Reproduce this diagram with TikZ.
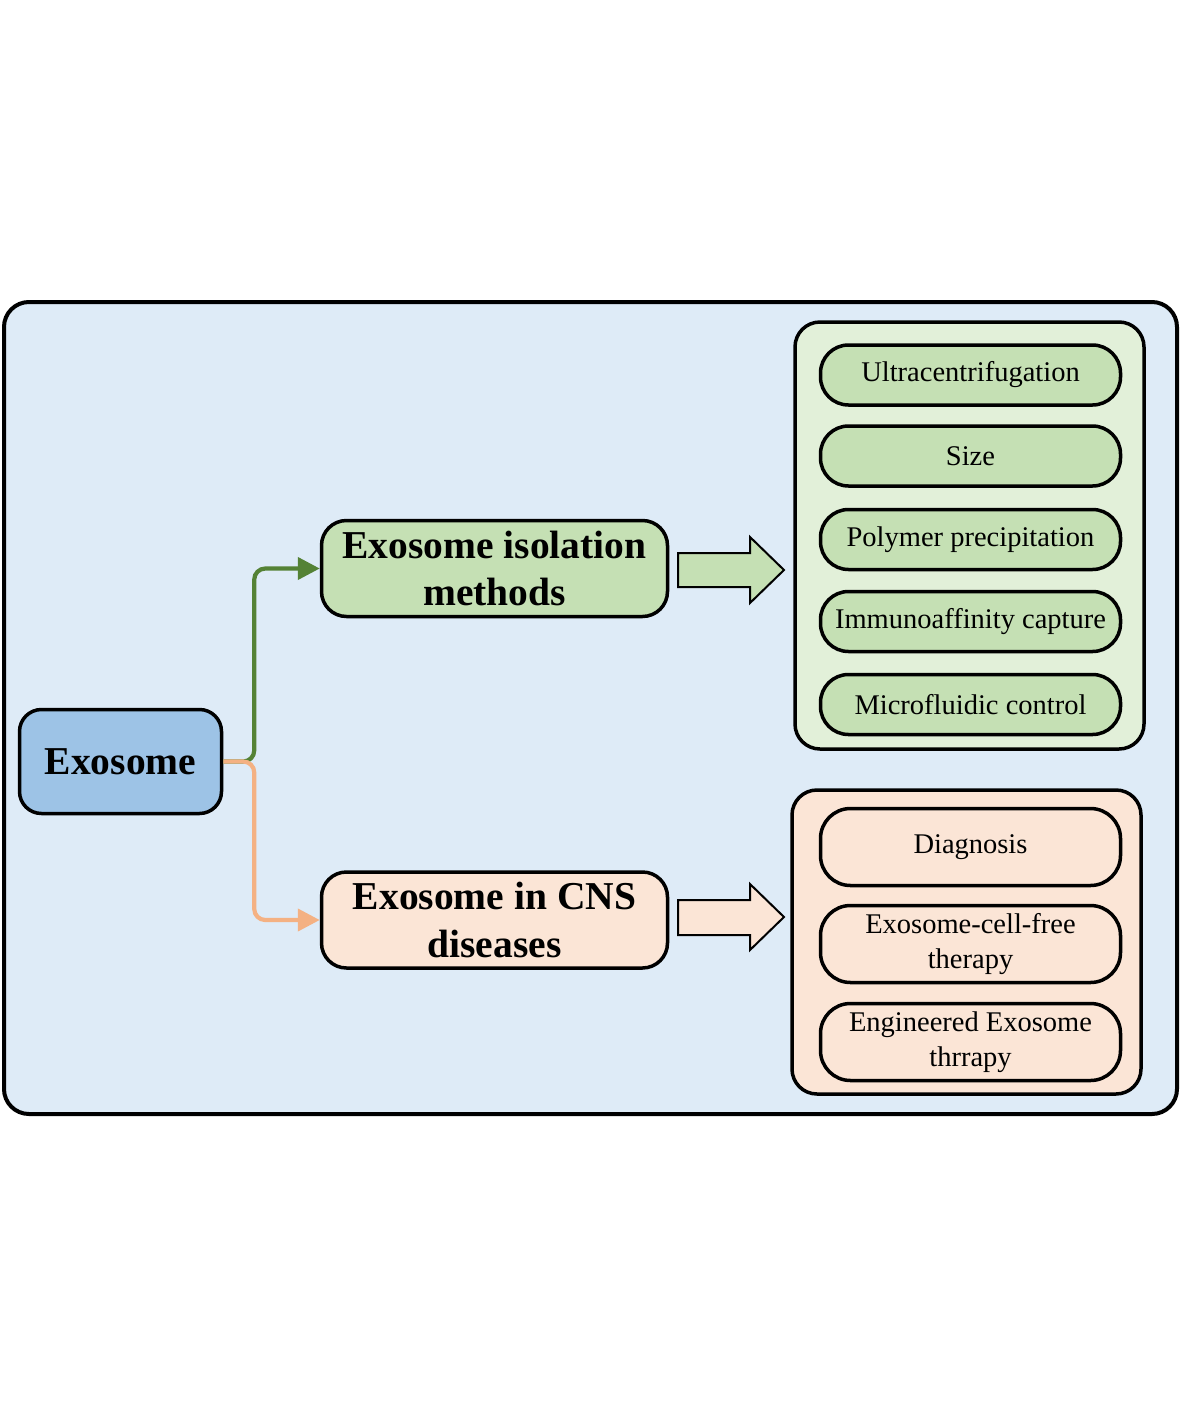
\documentclass[tikz,border=0pt]{standalone}
\usepackage{fontspec}
\setmainfont{Liberation Serif}
\usetikzlibrary{arrows.meta}
\definecolor{bgblue}{HTML}{DEEBF7}
\definecolor{exoblue}{HTML}{9DC3E6}
\definecolor{grnfill}{HTML}{C5E0B4}
\definecolor{grnpale}{HTML}{E2F0D9}
\definecolor{orgfill}{HTML}{FBE5D6}
\definecolor{grnline}{HTML}{548235}
\definecolor{orgline}{HTML}{F4B183}
\tikzset{
  box/.style={draw=black, line width=3.5pt, inner sep=0pt, align=center},
  title/.style={box, minimum width=346pt, minimum height=96pt, rounded corners=25pt,
    font=\fontsize{39.5}{47.5}\selectfont\bfseries},
  item/.style={box, minimum width=300pt, rounded corners=28pt,
    font=\fontsize{28.5}{34.5}\selectfont},
  container/.style={draw=black, line width=3.5pt, rounded corners=25pt},
  conn/.style={line width=4.2pt, rounded corners=11pt,
    -{Triangle[length=22pt,width=22pt]}},
  blockarrow/.style={draw=black, line width=2pt, line join=miter}
}
\begin{document}
\begin{tikzpicture}[x=1pt,y=-1pt]
\useasboundingbox (0,0) rectangle (1181,1417);
\fill[white] (0,0) rectangle (1181,1417);
% outer panel
\draw[line width=4pt, fill=bgblue, rounded corners=25pt] (4,302) rectangle (1177,1114);

% containers
\draw[container, fill=grnpale] (795,322) rectangle (1144,749);
\draw[container, fill=orgfill] (792,790) rectangle (1141,1094);

% main nodes
\node[box, fill=exoblue, minimum width=202pt, minimum height=104pt, rounded corners=22pt,
  font=\fontsize{39.5}{47}\selectfont\bfseries] (exo) at (120.5,761.5) {Exosome};
\node[title, fill=grnfill] (iso) at (494.5,568.5) {Exosome isolation\\methods};
\node[title, fill=orgfill] (cns) at (494.5,920) {Exosome in CNS\\diseases};

% green items
\node[item, fill=grnfill, minimum height=60pt] (u1) at (970.5,375) {Ultracentrifugation};
\node[item, fill=grnfill, minimum height=60pt] (u2) at (970.5,456) {Size};
\node[item, fill=grnfill, minimum height=60pt] (u3) at (970.5,539.5) {Polymer precipitation};
\node[item, fill=grnfill, minimum height=60pt] (u4) at (970.5,621.5) {Immunoaffinity capture};
\node[item, fill=grnfill, minimum height=60pt] (u5) at (970.5,704.5) {Microfluidic control};

% orange items
\node[item, fill=orgfill, minimum height=77pt, rounded corners=30pt] (d1) at (970.5,847) {Diagnosis};
\node[item, fill=orgfill, minimum height=77pt, rounded corners=30pt] (d2) at (970.5,944) {Exosome-cell-free\\therapy};
\node[item, fill=orgfill, minimum height=77pt, rounded corners=30pt] (d3) at (970.5,1042) {Engineered Exosome\\thrrapy};

% connectors
\draw[conn, grnline] (exo.east) -- ++(31,0) |- (iso.west);
\draw[conn, orgline] (exo.east) -- ++(31,0) |- (cns.west);

% block arrows
\draw[blockarrow, fill=grnfill] (678,553) -- (750,553) -- (750,537) -- (784,570) -- (750,603) -- (750,587) -- (678,587) -- cycle;
\draw[blockarrow, fill=orgfill] (678,900) -- (750,900) -- (750,884) -- (784,917) -- (750,950) -- (750,935) -- (678,935) -- cycle;
\end{tikzpicture}
\end{document}
